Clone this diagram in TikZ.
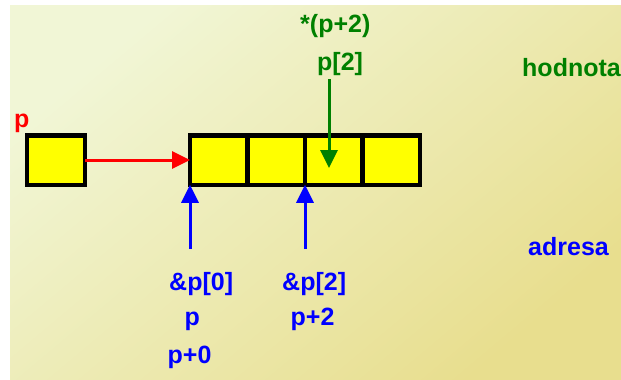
\documentclass[tikz,border=0pt]{standalone}
\usepackage{fontspec}
\setmainfont{Liberation Sans}
\usetikzlibrary{arrows.meta}
\definecolor{bgA}{RGB}{241,246,214}
\definecolor{bgB}{RGB}{232,222,142}
\definecolor{cgreen}{RGB}{0,128,0}
\definecolor{cblue}{RGB}{0,0,255}
\definecolor{cred}{RGB}{255,0,0}
\definecolor{cyel}{RGB}{255,255,0}
\tikzset{
  cell/.style={draw=black, fill=cyel, line width=4.5pt, outer sep=0pt, inner sep=0pt,
    minimum width=57.5pt, minimum height=49.5pt, rectangle},
  lbl/.style={inner sep=0pt, anchor=base west, font=\fontsize{25}{30}\selectfont\bfseries},
  arr/.style={line width=3pt, -{Triangle[length=18pt,width=17pt]}}
}
\begin{document}
\begin{tikzpicture}[x=1pt,y=-1pt]
\useasboundingbox (0,0) rectangle (621,380);
\fill[white] (0,0) rectangle (621,380);
\shade[top color=bgA, bottom color=bgB, shading angle=40] (10,5) rectangle (621,380);
% boxes
\node[cell, minimum width=58pt] (pbox) at (56,160) {};
\node[cell] (a0) at (218.75,160) {};
\node[cell] (a1) at (276.25,160) {};
\node[cell] (a2) at (333.75,160) {};
\node[cell] (a3) at (391.25,160) {};
% labels
\node[lbl, text=cred] (lp) at (14,127) {p};
\node[lbl, text=cgreen] (lstar) at (300,32) {*(p+2)};
\node[lbl, text=cgreen] (lp2) at (317,70) {p[2]};
\node[lbl, text=cgreen] (lhod) at (522,76) {hodnota};
\node[lbl, text=cblue] (ladr) at (528,255) {adresa};
\node[lbl, text=cblue] (la0) at (169,290) {\&p[0]};
\node[lbl, text=cblue] (lpp) at (184.5,325) {p};
\node[lbl, text=cblue] (lp0) at (167.5,363) {p+0};
\node[lbl, text=cblue] (la2) at (282,290) {\&p[2]};
\node[lbl, text=cblue] (lpp2) at (290.5,325) {p+2};
% connectors
\coordinate (gs) at (329,79);
\coordinate (ge) at (329,168);
\coordinate (b0s) at (190,249);
\coordinate (b2s) at (305,249);
\draw[arr, cred] (pbox.east) -- (a0.west);
\draw[arr, cgreen] (gs) -- (ge);
\draw[arr, cblue] (b0s) -- (a0.south west);
\draw[arr, cblue] (b2s) -- (a2.south west);
\end{tikzpicture}
\end{document}
